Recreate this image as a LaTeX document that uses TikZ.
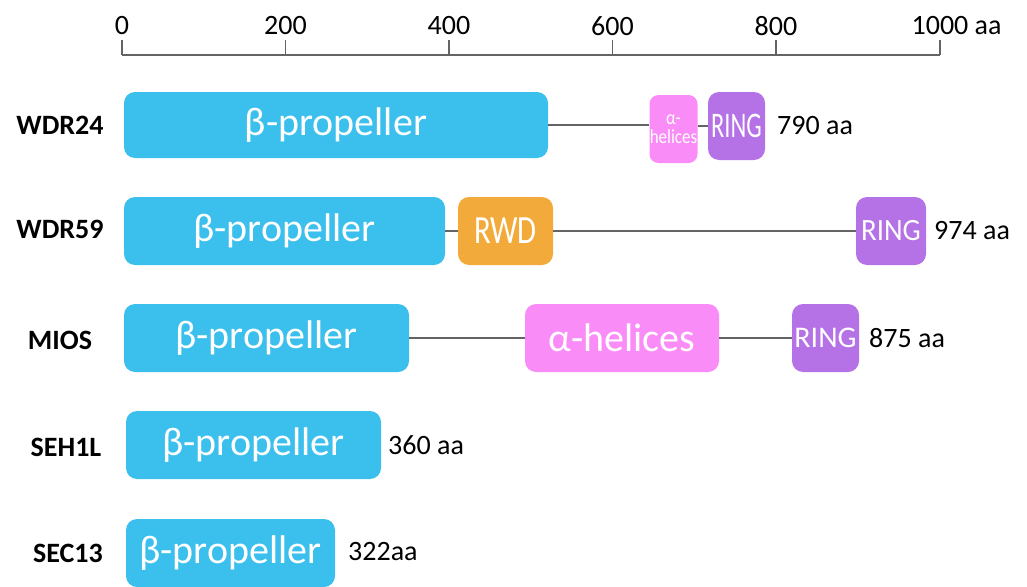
\documentclass[tikz,border=0pt]{standalone}
\usepackage{fontspec}
\setmainfont{Carlito}
\definecolor{betac}{RGB}{59,191,237}
\definecolor{alphac}{RGB}{250,140,248}
\definecolor{ringc}{RGB}{181,114,230}
\definecolor{rwdc}{RGB}{242,170,58}
\definecolor{linec}{RGB}{100,100,100}
\begin{document}
\begin{tikzpicture}[x=1pt,y=-1pt,
  dom/.style={rounded corners=11pt, text=white, inner sep=0pt, minimum height=68pt},
  big/.style={font=\fontsize{40}{40}\selectfont},
  ringtxt/.style={font=\fontsize{30}{30}\selectfont},
  prot/.style={font=\bfseries\fontsize{28}{28}\selectfont, inner sep=0pt},
  len/.style={font=\fontsize{28}{28}\selectfont, anchor=west, inner sep=0pt},
  tick/.style={font=\fontsize{28}{28}\selectfont, inner sep=0pt},
  conn/.style={draw=linec, line width=1.3pt},
  axis/.style={draw=linec, line width=1.3pt}]
\useasboundingbox (0,0) rectangle (1027,586);

% axis
\coordinate (a0) at (122,55);
\coordinate (a1000) at (940,55);
\draw[axis] (a0) -- (a1000);
\foreach \v/\x in {0/122,200/285.5,400/449,600/612.5,800/776,1000/940}{
  \coordinate (t\v) at (\x,55);
  \draw[axis] (t\v) -- ++(0,-15);
}
\foreach \v/\x in {0/122,200/285.5,400/449,600/612.5,800/776}{
  \node[tick] (l\v) at (\x,26) {\v};
}
\node[tick] (l1000) at (940,26) {1000\rlap{ aa}};

% WDR24
\node[prot] (n24) at (60,125) {WDR24};
\node[dom, fill=betac, minimum width=424pt, minimum height=66pt, big] (b24) at (336,125) {β-propeller};
\node[dom, fill=alphac, minimum width=48pt, rounded corners=9pt, font=\fontsize{20}{19}\selectfont, align=center] (h24) at (673.5,129) {\scalebox{0.85}[1]{α-}\\\scalebox{0.85}[1]{helices}};
\node[dom, fill=ringc, minimum width=57pt, font=\fontsize{36}{36}\selectfont] (r24) at (736.5,126) {\scalebox{0.68}[1]{RING}};
\node[len] (e24) at (777,126) {790 aa};
\draw[conn] (b24.east) -- (b24.east -| h24.west);
\draw[conn] (h24.east |- r24.west) -- (r24.west);

% WDR59
\node[prot] (n59) at (60,229) {WDR59};
\node[dom, fill=betac, minimum width=321pt, big] (b59) at (284.5,231) {β-propeller};
\node[dom, fill=rwdc, minimum width=95pt, font=\fontsize{40}{40}\selectfont] (w59) at (505.5,231) {\scalebox{0.77}[1]{RWD}};
\node[dom, fill=ringc, minimum width=70pt, font=\fontsize{31}{31}\selectfont] (r59) at (891,231) {\scalebox{0.93}[1]{RING}};
\node[len] (e59) at (934,231) {974 aa};
\draw[conn] (b59.east) -- (w59.west);
\draw[conn] (w59.east) -- (r59.west);

% MIOS
\node[prot] (nM) at (60,340) {MIOS};
\node[dom, fill=betac, minimum width=285pt, big] (bM) at (266.5,338) {β-propeller};
\node[dom, fill=alphac, minimum width=194pt, big] (hM) at (622,338) {α-helices};
\node[dom, fill=ringc, minimum width=67pt, ringtxt] (rM) at (825.5,338) {RING};
\node[len] (eM) at (869,338) {875 aa};
\draw[conn] (bM.east) -- (hM.west);
\draw[conn] (hM.east) -- (rM.west);

% SEH1L
\node[prot] (nS) at (66,447) {SEH1L};
\node[dom, fill=betac, minimum width=255pt, big] (bS) at (253.5,445) {β-propeller};
\node[len] (eS) at (388,445) {360 aa};

% SEC13
\node[prot] (nC) at (68,553) {SEC13};
\node[dom, fill=betac, minimum width=209pt, big] (bC) at (230.5,553) {β-propeller};
\node[len] (eC) at (348,552) {322aa};
\end{tikzpicture}
\end{document}
